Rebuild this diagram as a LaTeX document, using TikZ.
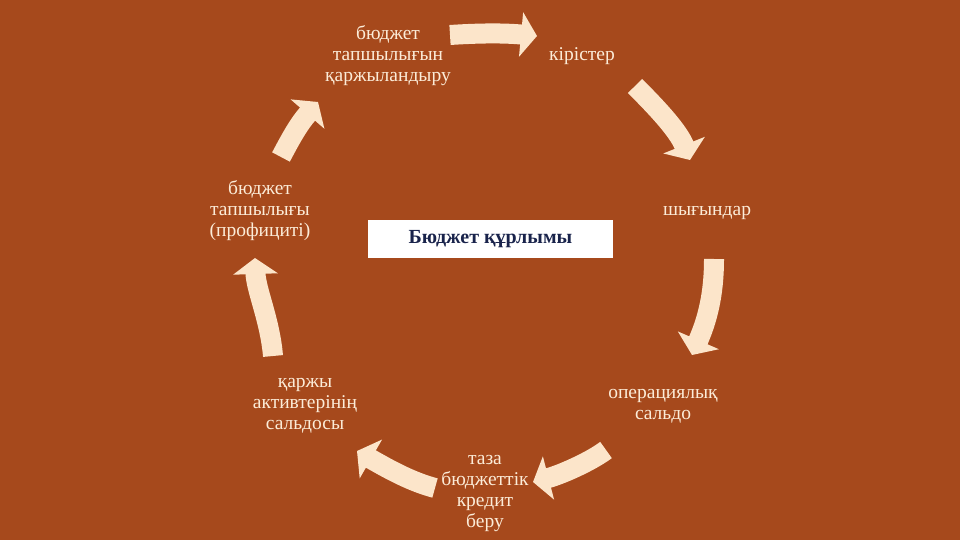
\documentclass[tikz,border=0pt]{standalone}
\usepackage{fontspec}
\setmainfont{Liberation Serif}
\usetikzlibrary{arrows.meta}
\definecolor{bgc}{RGB}{166,73,28}
\definecolor{cream}{RGB}{252,229,202}
\definecolor{txtc}{RGB}{252,236,216}
\definecolor{navy}{RGB}{25,35,75}
\tikzset{
  lbl/.style={text=txtc, align=center, font=\fontsize{19.5}{21}\selectfont, inner sep=0pt},
  bigarrow/.style={draw=cream, line width=20pt, -{Triangle[width=44pt,length=16pt]}, cream},
}
\begin{document}
\begin{tikzpicture}[x=1pt,y=-1pt]
\fill[bgc] (0,0) rectangle (960,540);
\useasboundingbox (0,0) rectangle (960,540);
% labels
\node[lbl] (fin) at (388,56) {бюджет\\тапшылығын\\қаржыландыру};
\node[lbl] (rev) at (582,56) {кірістер};
\node[lbl] (exp) at (707,213) {шығындар};
\node[lbl] (ops) at (663,406) {операциялық\\сальдо};
\node[lbl] (net) at (485,494) {таза\\бюджеттік\\кредит\\беру};
\node[lbl] (fa) at (305,406) {қаржы\\активтерінің\\сальдосы};
\node[lbl] (def) at (260,211) {бюджет\\тапшылығы\\(профициті)};
\node[fill=white, minimum width=245pt, minimum height=38pt, inner sep=0pt,
      text=navy, font=\fontsize{20}{22}\selectfont\bfseries] (ctr) at (490.5,239) {Бюджет құрлымы};
% arrow end points
\coordinate (a1s) at (450,35);  \coordinate (a1e) at (537,36);
\coordinate (a2s) at (635,86);  \coordinate (a2e) at (690,160);
\coordinate (a3s) at (714,259); \coordinate (a3e) at (692,355);
\coordinate (a4s) at (606,450); \coordinate (a4e) at (533,482);
\coordinate (a5s) at (435,488); \coordinate (a5e) at (357,451);
\coordinate (a6s) at (273,356); \coordinate (a6e) at (255,258);
\coordinate (a7s) at (281,157); \coordinate (a7e) at (318,102);
% arrows
\draw[bigarrow] (a1s) .. controls (480,33) and (505,33) .. (a1e);
\draw[bigarrow] (a2s) .. controls (655,106) and (678,130) .. (a2e);
\draw[bigarrow] (a3s) .. controls (714,300) and (705,325) .. (a3e);
\draw[bigarrow] (a4s) .. controls (590,462) and (560,475) .. (a4e);
\draw[bigarrow] (a5s) .. controls (412,482) and (390,470) .. (a5e);
\draw[bigarrow] (a6s) .. controls (270,320) and (256,290) .. (a6e);
\draw[bigarrow] (a7s) .. controls (290,140) and (298,125) .. (a7e);
\end{tikzpicture}
\end{document}
